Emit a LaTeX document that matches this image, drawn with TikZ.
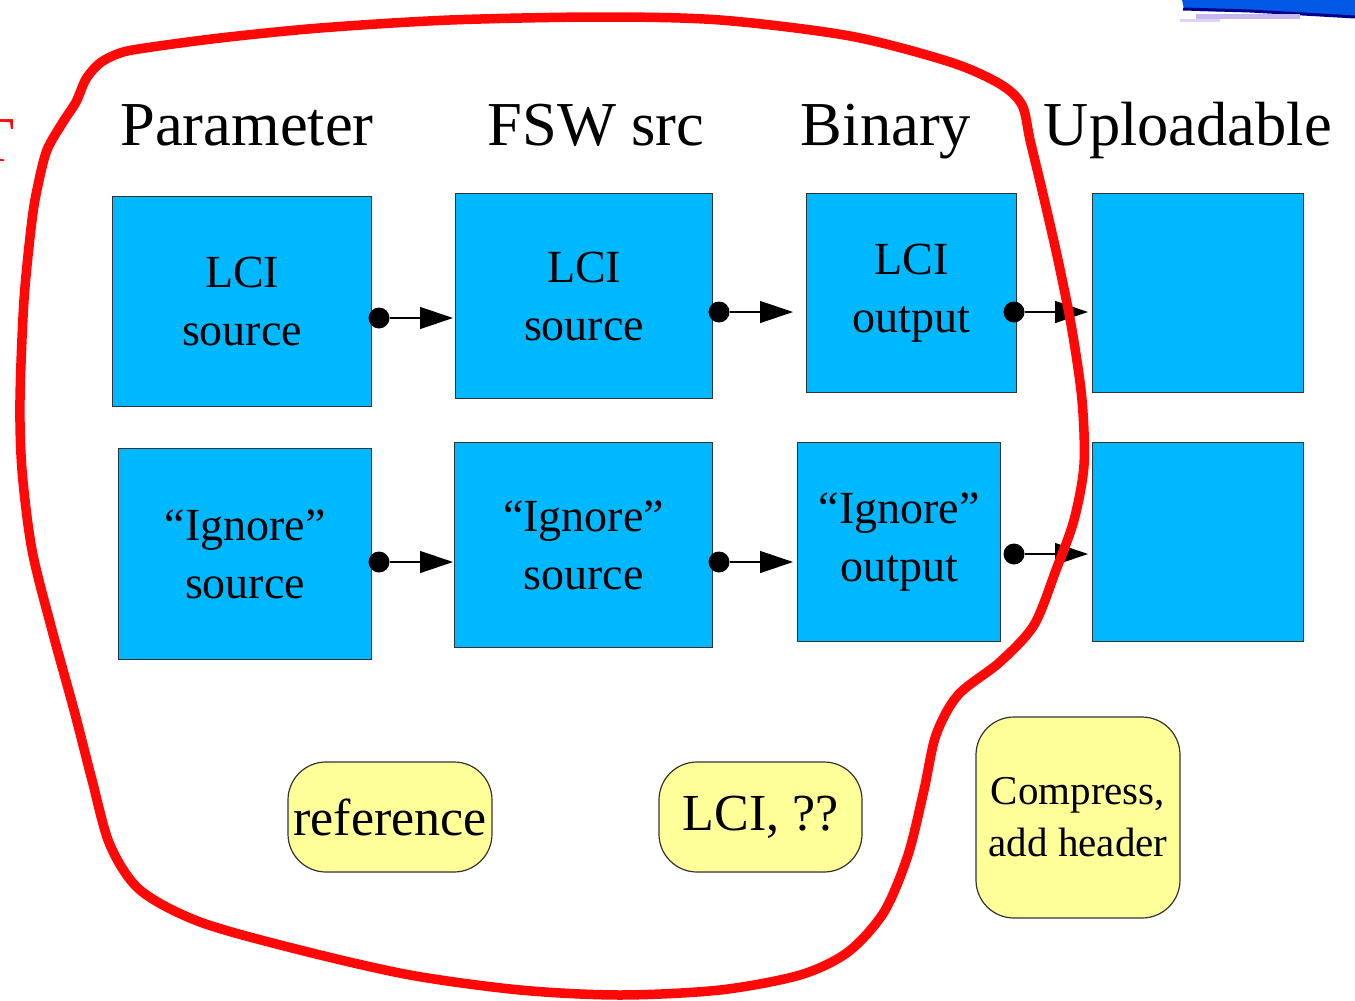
\documentclass[tikz,border=0pt]{standalone}
\usepackage{fontspec}
\setmainfont{Liberation Serif}
\usetikzlibrary{arrows.meta}
\definecolor{boxblue}{RGB}{0,184,255}
\definecolor{noteyellow}{RGB}{255,255,153}
\definecolor{loopred}{RGB}{255,8,8}
\definecolor{smudgeblue}{RGB}{0,88,228}
\definecolor{smudgenavy}{RGB}{0,0,140}
\definecolor{smudgelav}{RGB}{200,182,238}
\tikzset{
  stage/.style={draw=black!80, line width=1.2pt, fill=boxblue, anchor=north west,
    inner sep=0pt, align=center, font=\fontsize{46}{58}\selectfont},
  note/.style={draw=black!80, line width=1.2pt, fill=noteyellow, rounded corners=38pt,
    inner sep=0pt, align=center},
  heading/.style={anchor=base, inner sep=0pt, font=\fontsize{62.5}{70}\selectfont},
  joint/.style={circle, fill=black, minimum size=21pt, inner sep=0pt},
  conn/.style={line width=1.3pt, -{Triangle[length=33pt,width=22pt]}}
}
\begin{document}
\begin{tikzpicture}[x=1pt,y=-1pt]
\useasboundingbox (0,0) rectangle (1355,1001);

% column headings
\node[heading] (hpar) at (247,145) {Parameter};
\node[heading] (hfsw) at (596,145) {FSW src};
\node[heading] (hbin) at (886,145) {Binary};
\node[heading] (hupl) at (1188,145) {Uploadable};

% partially visible red letter at the left edge
\node[anchor=base east, inner sep=0pt, text=loopred, font=\fontsize{64}{70}\selectfont] (tleft) at (15,161) {T};

% blue fragment at the top right edge
\fill[smudgeblue] (1182,0) -- (1355,0) -- (1355,16) -- (1300,13) -- (1200,11) -- (1184,9) -- cycle;
\draw[smudgenavy, line width=3pt] (1183,9) -- (1250,11) -- (1355,17);
\draw[smudgelav, line width=5pt] (1196,16) -- (1300,16);
\draw[smudgelav!60, line width=3pt] (1180,20) -- (1220,20);

% first row
\node[stage, minimum width=259pt, minimum height=210pt] (a1) at (112,196) {LCI\\source};
\node[stage, minimum width=257pt, minimum height=205pt] (a2) at (455,193) {LCI\\source};
\node[stage, minimum width=210pt, minimum height=199pt] (a3) at (806,193) {LCI\\output};
\node[stage, minimum width=211pt, minimum height=199pt] (a4) at (1092,193) {};

% second row
\node[stage, minimum width=253pt, minimum height=211pt] (b1) at (118,448) {“Ignore”\\source};
\node[stage, minimum width=258pt, minimum height=205pt] (b2) at (454,442) {“Ignore”\\source};
\node[stage, minimum width=203pt, minimum height=199pt] (b3) at (797,442) {“Ignore”\\output};
\node[stage, minimum width=211pt, minimum height=199pt] (b4) at (1092,442) {};

% connection points
\node[joint] (ja1) at (379,318) {};
\node[joint] (ja2) at (719,312) {};
\node[joint] (ja3) at (1014,312) {};
\node[joint] (jb1) at (379,562) {};
\node[joint] (jb2) at (719,562) {};
\node[joint] (jb3) at (1014,554) {};

\draw[conn, shorten >=2pt] (ja1) -- (ja1 -| a2.west);
\draw[conn, shorten >=13pt] (ja2) -- (ja2 -| a3.west);
\draw[conn, shorten >=4pt] (ja3) -- (ja3 -| a4.west);
\draw[conn, shorten >=1pt] (jb1) -- (jb1 -| b2.west);
\draw[conn, shorten >=4pt] (jb2) -- (jb2 -| b3.west);
\draw[conn, shorten >=4pt] (jb3) -- (jb3 -| b4.west);

% notes
\node[note, minimum width=204pt, minimum height=110pt, font=\fontsize{52}{60}\selectfont] (nref) at (390,817) {reference};
\node[note, minimum width=203pt, minimum height=110pt, font=\fontsize{52}{60}\selectfont] (nlci) at (760.5,817) {LCI, ??};
\node[note, minimum width=204pt, minimum height=201pt, font=\fontsize{41}{52}\selectfont] (ncmp) at (1078,817.5) {Compress,\\add header};

% freehand outline round the first three columns
\draw[loopred, line width=9.5pt, line join=round] plot[smooth cycle, tension=0.5] coordinates {
  (63,122) (76,102) (86,79) (100,63) (120,53) (145,48) (220,38) (320,28)
  (450,20) (600,17) (720,20) (850,36) (950,62) (1000,84) (1022,105)
  (1030,140) (1042,190) (1058,260) (1072,330) (1082,400) (1084,465)
  (1074,520) (1056,570) (1034,625) (1000,662) (958,695) (936,735)
  (924,790) (908,855) (884,912) (848,952) (800,975) (720,990) (620,995)
  (520,990) (410,975) (300,950) (200,922) (140,890) (110,845) (92,780)
  (74,710) (52,630) (32,550) (22,470) (20,400) (24,300) (32,220)
  (38,185) (47,150)
};
\end{tikzpicture}
\end{document}
